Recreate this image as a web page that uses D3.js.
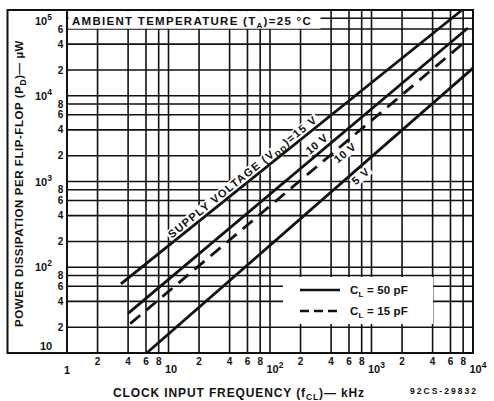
<!DOCTYPE html>
<html><head><meta charset="utf-8">
<script src="https://cdn.jsdelivr.net/npm/d3@7"></script>
<style>
html,body{margin:0;padding:0;background:#fff;}
svg{display:block;}
text{font-family:"Liberation Sans", Arial, sans-serif;font-weight:bold;fill:#111;}
</style></head><body>
<svg id="c" width="494" height="401"></svg>
<script>
// ---- data ----
const supplyVolts = [15, 10, 10, 5];
const loadPF      = [50, 50, 15, 50];
const seriesLabels = ["SUPPLY VOLTAGE (V_DD)=15 V", "10 V", "10 V", "5 V"];
const freqStart  = [3.4, 4.0, 4.2, 6.1];          // kHz
const freqEnd    = [7800, 8900, 8300, 10000];     // kHz
const powerStart = [64, 29, 22, 10];              // µW
const powerEnd   = [100000, 61700, 42400, 21000]; // µW

const xTicks = [1,2,4,6,8,10,20,40,60,80,100,200,400,600,800,1000,2000,4000,6000,8000,10000];
const xTickText = ["1","2","4","6","8","10","2","4","6","8","10^2","2","4","6","8","10^3","2","4","6","8","10^4"];
const yTicks = [10,20,40,60,80,100,200,400,600,800,1000,2000,4000,6000,8000,10000,20000,40000,60000,100000];
const yTickText = ["10","2","4","6","8","10^2","2","4","6","8","10^3","2","4","6","8","10^4","2","4","6","10^5"];
const yGridExtra = [80000];

const legendText = ["C_L = 50 pF", "C_L = 15 pF"];
const titleText = "AMBIENT TEMPERATURE (T_A)=25 °C";
const xTitle = "CLOCK INPUT FREQUENCY (f_CL)— kHz";
const yTitle = "POWER DISSIPATION PER FLIP-FLOP (P_D)— µW";
const figCode = "92CS-29832";

// ---- layout ----
const svg = d3.select("#c");
const L = 67, R = 473, T = 10, B = 353;
const x = d3.scaleLog().domain([1, 1e4]).range([L, R]);
const y = d3.scaleLog().domain([10, 1e5]).range([B, T]);
const ink = "#111";

function addRich(textSel, str, subSize, subDy) {
  // "A_B rest" -> subscript B ; "10^2" -> superscript
  const m = str.match(/^(.*?)([_^])([A-Za-z0-9]+)(.*)$/);
  if (!m) { textSel.append("tspan").text(str); return; }
  textSel.append("tspan").text(m[1]);
  const sup = m[2] === "^";
  textSel.append("tspan").attr("font-size", subSize).attr("dy", sup ? -subDy : subDy).text(m[3]);
  if (m[4]) textSel.append("tspan").attr("dy", sup ? subDy : -subDy).text(m[4]);
}
function fitWidth(textSel, target) {
  const node = textSel.node();
  const n = node.getNumberOfChars();
  const nat = node.getComputedTextLength();
  textSel.style("letter-spacing", ((target - nat) / n) + "px");
}

// frame
svg.append("rect").attr("x", 7.5).attr("y", T).attr("width", R - 7.5).attr("height", B - T)
  .attr("fill", "none").attr("stroke", ink).attr("stroke-width", 2);

// grid
const grid = svg.append("g").attr("stroke", ink).attr("stroke-width", 1.6);
grid.selectAll("line.v").data(xTicks).join("line")
  .attr("x1", d => x(d)).attr("x2", d => x(d)).attr("y1", T).attr("y2", B);
grid.selectAll("line.h").data(yTicks.concat(yGridExtra)).join("line")
  .attr("x1", L).attr("x2", R).attr("y1", d => y(d)).attr("y2", d => y(d));
svg.append("line").attr("x1", L).attr("x2", L).attr("y1", T).attr("y2", B).attr("stroke", ink).attr("stroke-width", 2);

// title box
svg.append("rect").attr("x", L + 1.5).attr("y", T + 1.2).attr("width", 252).attr("height", 17.5).attr("fill", "#fff");
const tt = svg.append("text").attr("x", 72).attr("y", 24.5).attr("font-size", 11.5);
addRich(tt, titleText, 8, 3);
fitWidth(tt, 240);

// legend box
svg.append("rect").attr("x", 283).attr("y", 277).attr("width", 150).attr("height", 47).attr("fill", "#fff");

// data lines
const idx = d3.range(supplyVolts.length);
const lineGen = d3.line().x(d => x(d[0])).y(d => y(d[1]));
const labelLayer = svg.append("g");
const lineLayer = svg.append("g");
const place = [
  {t: 0.37, off: 3.5},
  {t: 0.571, off: 4.5},
  {t: 0.627, off: -11.5},
  {t: 0.641, off: -11.3}
];
idx.forEach(i => {
  const pts = [[freqStart[i], powerStart[i]], [freqEnd[i], powerEnd[i]]];
  lineLayer.append("path").attr("d", lineGen(pts)).attr("fill", "none")
    .attr("stroke", ink).attr("stroke-width", 2.8)
    .attr("stroke-dasharray", loadPF[i] === 15 ? "13,8" : null);
  const x0 = x(freqStart[i]), y0 = y(powerStart[i]), x1 = x(freqEnd[i]), y1 = y(powerEnd[i]);
  const ang = Math.atan2(y1 - y0, x1 - x0) * 180 / Math.PI;
  const p = place[i];
  const cx = x0 + (x1 - x0) * p.t, cy = y0 + (y1 - y0) * p.t;
  const g = labelLayer.append("g").attr("transform", `translate(${cx},${cy}) rotate(${ang})`);
  const tx = g.append("text").attr("x", 0).attr("y", -p.off).attr("text-anchor", "middle").attr("font-size", 11);
  addRich(tx, seriesLabels[i], 8, 3);
  fitWidth(tx, i === 0 ? 188 : (i === 3 ? 20 : 25));
  const bb = tx.node().getBBox();
  g.insert("rect", "text").attr("x", bb.x - 1.5).attr("y", bb.y + 1).attr("width", bb.width + 3).attr("height", bb.height - 1).attr("fill", "#fff");
});

// legend samples
const legY = [290, 311];
legendText.forEach((s, k) => {
  svg.append("line").attr("x1", 300).attr("x2", 340).attr("y1", legY[k]).attr("y2", legY[k])
    .attr("stroke", ink).attr("stroke-width", 2.6).attr("stroke-dasharray", k === 1 ? "9,5" : null);
  const lt = svg.append("text").attr("x", 350).attr("y", legY[k] + 4).attr("font-size", 11.5);
  addRich(lt, s, 8, 3);
  fitWidth(lt, 58);
});

// x tick labels
xTicks.forEach((v, k) => {
  const s = xTickText[k];
  const isDec = s.startsWith("1") ;
  if (s === "1") {
    svg.append("text").attr("x", x(v)).attr("y", 374).attr("text-anchor", "middle").attr("font-size", 11).text("1");
  } else if (isDec) {
    const t = svg.append("text").attr("x", x(v) - 3.5).attr("y", 373).attr("font-size", 11);
    addRich(t, s, 8.5, 5);
  } else {
    svg.append("text").attr("x", x(v)).attr("y", 365).attr("text-anchor", "middle").attr("font-size", 10).text(s);
  }
});

// y tick labels
yTicks.forEach((v, k) => {
  const s = yTickText[k];
  if (s === "10") {
    svg.append("text").attr("x", 40).attr("y", y(v) - 3).attr("font-size", 11).text("10");
  } else if (s.startsWith("10^")) {
    const t = svg.append("text").attr("x", 35).attr("y", Math.max(y(v) + 4, 25)).attr("font-size", 11);
    addRich(t, s, 8.5, 5);
  } else {
    svg.append("text").attr("x", 60.5).attr("y", y(v) + 3.6).attr("text-anchor", "middle").attr("font-size", 10).text(s);
  }
});

// axis titles
const xt = svg.append("text").attr("x", 113).attr("y", 397).attr("font-size", 12);
addRich(xt, xTitle, 8.5, 3);
fitWidth(xt, 252);
const yt = svg.append("text").attr("transform", "translate(23,327) rotate(-90)").attr("x", 0).attr("y", 0).attr("font-size", 11.5);
addRich(yt, yTitle, 8.5, 3);
fitWidth(yt, 287);
const fc = svg.append("text").attr("x", 410).attr("y", 394).attr("font-size", 8.5).text(figCode);
fitWidth(fc, 68);
</script>
</body></html>
